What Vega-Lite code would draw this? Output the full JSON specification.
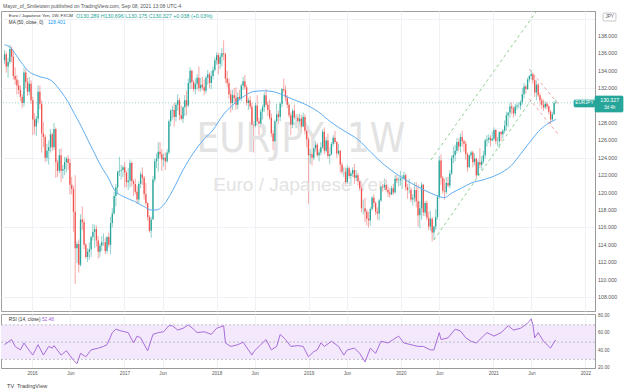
{
"$schema":"https://vega.github.io/schema/vega-lite/v6.json",
"background":"white",
"padding":{"left":0,"top":3,"right":0,"bottom":0},
"autosize":{"type":"pad"},
"spacing":0,
"config":{"view":{"stroke":"#a0a0a0","strokeWidth":1},"axis":{"labelFont":"Liberation Sans","labelColor":"#555","ticks":false,"gridColor":"#eef1f6","gridWidth":1,"domainColor":"#9a9a9a","zindex":0,"labelOverlap":false}},
"datasets":{
"candles":[
{"d":"2015-09-14","o":135.2,"h":136.4,"l":134.8,"c":135.9},
{"d":"2015-09-21","o":135.9,"h":136.2,"l":133.8,"c":134.5},
{"d":"2015-09-28","o":134.5,"h":135.5,"l":133.2,"c":135.0},
{"d":"2015-10-05","o":135.0,"h":137.0,"l":134.8,"c":136.5},
{"d":"2015-10-12","o":136.5,"h":136.8,"l":135.0,"c":135.6},
{"d":"2015-10-19","o":135.6,"h":136.3,"l":133.0,"c":133.4},
{"d":"2015-10-26","o":133.4,"h":134.4,"l":132.4,"c":133.0},
{"d":"2015-11-02","o":133.0,"h":133.5,"l":131.3,"c":132.3},
{"d":"2015-11-09","o":132.3,"h":132.9,"l":131.3,"c":131.8},
{"d":"2015-11-16","o":131.8,"h":132.3,"l":130.5,"c":131.0},
{"d":"2015-11-23","o":131.0,"h":131.3,"l":129.7,"c":130.3},
{"d":"2015-11-30","o":130.3,"h":134.4,"l":129.9,"c":133.8},
{"d":"2015-12-07","o":133.8,"h":134.2,"l":132.0,"c":132.7},
{"d":"2015-12-14","o":132.7,"h":133.2,"l":131.1,"c":131.6},
{"d":"2015-12-21","o":131.6,"h":133.3,"l":131.2,"c":132.5},
{"d":"2015-12-28","o":132.5,"h":132.9,"l":130.2,"c":130.6},
{"d":"2016-01-04","o":130.6,"h":131.0,"l":126.6,"c":128.4},
{"d":"2016-01-11","o":128.4,"h":129.1,"l":126.7,"c":127.6},
{"d":"2016-01-18","o":127.6,"h":128.8,"l":126.5,"c":128.5},
{"d":"2016-01-25","o":128.5,"h":132.3,"l":128.0,"c":131.6},
{"d":"2016-02-01","o":131.6,"h":132.3,"l":129.6,"c":130.2},
{"d":"2016-02-08","o":130.2,"h":130.6,"l":124.6,"c":126.8},
{"d":"2016-02-15","o":126.8,"h":128.1,"l":125.2,"c":126.4},
{"d":"2016-02-22","o":126.4,"h":126.7,"l":123.5,"c":124.0},
{"d":"2016-02-29","o":124.0,"h":125.6,"l":123.6,"c":124.8},
{"d":"2016-03-07","o":124.8,"h":126.0,"l":123.2,"c":125.2},
{"d":"2016-03-14","o":125.2,"h":127.3,"l":124.6,"c":126.7},
{"d":"2016-03-21","o":126.7,"h":126.9,"l":124.8,"c":125.2},
{"d":"2016-03-28","o":125.2,"h":128.0,"l":124.9,"c":127.3},
{"d":"2016-04-04","o":127.3,"h":127.5,"l":121.7,"c":123.5},
{"d":"2016-04-11","o":123.5,"h":123.8,"l":121.8,"c":122.5},
{"d":"2016-04-18","o":122.5,"h":125.0,"l":122.2,"c":124.3},
{"d":"2016-04-25","o":124.3,"h":125.1,"l":121.2,"c":122.5},
{"d":"2016-05-02","o":122.5,"h":123.2,"l":121.6,"c":122.7},
{"d":"2016-05-09","o":122.7,"h":124.1,"l":122.0,"c":123.5},
{"d":"2016-05-16","o":123.5,"h":124.1,"l":122.3,"c":123.9},
{"d":"2016-05-23","o":123.9,"h":124.3,"l":122.6,"c":123.4},
{"d":"2016-05-30","o":123.4,"h":123.9,"l":119.8,"c":120.9},
{"d":"2016-06-06","o":120.9,"h":121.8,"l":119.8,"c":120.4},
{"d":"2016-06-13","o":120.4,"h":120.8,"l":115.5,"c":117.8},
{"d":"2016-06-20","o":117.8,"h":122.0,"l":109.5,"c":113.6},
{"d":"2016-06-27","o":113.6,"h":114.4,"l":111.9,"c":114.1},
{"d":"2016-07-04","o":114.1,"h":114.6,"l":110.8,"c":111.7},
{"d":"2016-07-11","o":111.7,"h":117.5,"l":111.5,"c":116.9},
{"d":"2016-07-18","o":116.9,"h":118.4,"l":115.7,"c":116.6},
{"d":"2016-07-25","o":116.6,"h":117.0,"l":113.5,"c":114.0},
{"d":"2016-08-01","o":114.0,"h":114.2,"l":112.4,"c":112.6},
{"d":"2016-08-08","o":112.6,"h":113.6,"l":112.0,"c":113.2},
{"d":"2016-08-15","o":113.2,"h":114.3,"l":112.3,"c":113.5},
{"d":"2016-08-22","o":113.5,"h":115.0,"l":112.6,"c":114.9},
{"d":"2016-08-29","o":114.9,"h":116.4,"l":114.5,"c":115.5},
{"d":"2016-09-05","o":115.5,"h":116.3,"l":113.6,"c":115.8},
{"d":"2016-09-12","o":115.8,"h":116.2,"l":113.8,"c":114.5},
{"d":"2016-09-19","o":114.5,"h":115.0,"l":112.4,"c":113.2},
{"d":"2016-09-26","o":113.2,"h":114.2,"l":112.6,"c":113.9},
{"d":"2016-10-03","o":113.9,"h":115.0,"l":113.3,"c":114.3},
{"d":"2016-10-10","o":114.3,"h":115.3,"l":113.9,"c":114.3},
{"d":"2016-10-17","o":114.3,"h":114.8,"l":112.9,"c":113.3},
{"d":"2016-10-24","o":113.3,"h":115.0,"l":113.0,"c":114.9},
{"d":"2016-10-31","o":114.9,"h":115.4,"l":113.7,"c":114.0},
{"d":"2016-11-07","o":114.0,"h":117.2,"l":112.9,"c":116.5},
{"d":"2016-11-14","o":116.5,"h":118.2,"l":116.0,"c":117.6},
{"d":"2016-11-21","o":117.6,"h":120.1,"l":117.5,"c":119.6},
{"d":"2016-11-28","o":119.6,"h":121.0,"l":118.4,"c":120.6},
{"d":"2016-12-05","o":120.6,"h":122.5,"l":119.8,"c":122.4},
{"d":"2016-12-12","o":122.4,"h":124.1,"l":121.9,"c":122.5},
{"d":"2016-12-19","o":122.5,"h":123.2,"l":121.5,"c":122.6},
{"d":"2016-12-26","o":122.6,"h":123.1,"l":121.8,"c":122.9},
{"d":"2017-01-02","o":122.9,"h":123.5,"l":120.6,"c":122.3},
{"d":"2017-01-09","o":122.3,"h":122.5,"l":120.6,"c":121.2},
{"d":"2017-01-16","o":121.2,"h":122.8,"l":120.3,"c":121.4},
{"d":"2017-01-23","o":121.4,"h":123.8,"l":120.6,"c":123.4},
{"d":"2017-01-30","o":123.4,"h":123.6,"l":120.7,"c":121.3},
{"d":"2017-02-06","o":121.3,"h":121.5,"l":119.6,"c":121.0},
{"d":"2017-02-13","o":121.0,"h":121.6,"l":119.8,"c":120.1},
{"d":"2017-02-20","o":120.1,"h":120.8,"l":118.7,"c":119.2},
{"d":"2017-02-27","o":119.2,"h":121.3,"l":118.8,"c":121.0},
{"d":"2017-03-06","o":121.0,"h":122.4,"l":120.5,"c":122.1},
{"d":"2017-03-13","o":122.1,"h":122.9,"l":120.9,"c":121.7},
{"d":"2017-03-20","o":121.7,"h":121.9,"l":119.2,"c":119.8},
{"d":"2017-03-27","o":119.8,"h":121.1,"l":118.5,"c":118.8},
{"d":"2017-04-03","o":118.8,"h":118.9,"l":116.8,"c":117.2},
{"d":"2017-04-10","o":117.2,"h":117.4,"l":115.4,"c":115.6},
{"d":"2017-04-17","o":115.6,"h":117.2,"l":114.8,"c":116.9},
{"d":"2017-04-24","o":116.9,"h":121.9,"l":116.9,"c":121.5},
{"d":"2017-05-01","o":121.5,"h":123.9,"l":121.2,"c":123.6},
{"d":"2017-05-08","o":123.6,"h":124.5,"l":122.8,"c":123.9},
{"d":"2017-05-15","o":123.9,"h":125.8,"l":122.4,"c":124.7},
{"d":"2017-05-22","o":124.7,"h":125.8,"l":124.0,"c":124.4},
{"d":"2017-05-29","o":124.4,"h":125.0,"l":122.5,"c":123.8},
{"d":"2017-06-05","o":123.8,"h":124.5,"l":123.0,"c":124.0},
{"d":"2017-06-12","o":124.0,"h":124.6,"l":122.6,"c":123.6},
{"d":"2017-06-19","o":123.6,"h":125.0,"l":123.4,"c":124.6},
{"d":"2017-06-26","o":124.6,"h":128.4,"l":124.4,"c":128.2},
{"d":"2017-07-03","o":128.2,"h":129.6,"l":127.6,"c":129.4},
{"d":"2017-07-10","o":129.4,"h":130.0,"l":128.4,"c":129.5},
{"d":"2017-07-17","o":129.5,"h":130.3,"l":127.6,"c":128.7},
{"d":"2017-07-24","o":128.7,"h":130.4,"l":128.2,"c":130.1},
{"d":"2017-07-31","o":130.1,"h":131.3,"l":129.4,"c":130.6},
{"d":"2017-08-07","o":130.6,"h":130.9,"l":128.3,"c":128.9},
{"d":"2017-08-14","o":128.9,"h":130.0,"l":128.3,"c":128.5},
{"d":"2017-08-21","o":128.5,"h":129.9,"l":128.0,"c":129.8},
{"d":"2017-08-28","o":129.8,"h":131.2,"l":128.8,"c":130.6},
{"d":"2017-09-04","o":130.6,"h":131.7,"l":128.9,"c":130.0},
{"d":"2017-09-11","o":130.0,"h":133.1,"l":129.8,"c":132.6},
{"d":"2017-09-18","o":132.6,"h":134.4,"l":131.9,"c":134.0},
{"d":"2017-09-25","o":134.0,"h":134.1,"l":131.9,"c":132.7},
{"d":"2017-10-02","o":132.7,"h":132.9,"l":131.6,"c":131.9},
{"d":"2017-10-09","o":131.9,"h":133.1,"l":131.3,"c":132.5},
{"d":"2017-10-16","o":132.5,"h":133.6,"l":131.8,"c":133.2},
{"d":"2017-10-23","o":133.2,"h":134.5,"l":131.6,"c":132.0},
{"d":"2017-10-30","o":132.0,"h":133.2,"l":131.6,"c":132.4},
{"d":"2017-11-06","o":132.4,"h":133.3,"l":131.8,"c":132.1},
{"d":"2017-11-13","o":132.1,"h":133.0,"l":131.2,"c":131.7},
{"d":"2017-11-20","o":131.7,"h":133.4,"l":131.4,"c":133.2},
{"d":"2017-11-27","o":133.2,"h":134.1,"l":132.4,"c":133.6},
{"d":"2017-12-04","o":133.6,"h":133.8,"l":132.0,"c":132.6},
{"d":"2017-12-11","o":132.6,"h":134.0,"l":131.9,"c":133.4},
{"d":"2017-12-18","o":133.4,"h":134.5,"l":133.0,"c":134.1},
{"d":"2017-12-25","o":134.1,"h":135.5,"l":133.9,"c":135.2},
{"d":"2018-01-01","o":135.2,"h":136.1,"l":134.7,"c":135.8},
{"d":"2018-01-08","o":135.8,"h":136.1,"l":133.6,"c":134.8},
{"d":"2018-01-15","o":134.8,"h":136.0,"l":134.2,"c":135.6},
{"d":"2018-01-22","o":135.6,"h":136.6,"l":134.5,"c":136.0},
{"d":"2018-01-29","o":136.0,"h":137.5,"l":135.2,"c":135.9},
{"d":"2018-02-05","o":135.9,"h":136.1,"l":132.6,"c":133.1},
{"d":"2018-02-12","o":133.1,"h":134.0,"l":132.1,"c":132.6},
{"d":"2018-02-19","o":132.6,"h":133.1,"l":130.8,"c":131.3},
{"d":"2018-02-26","o":131.3,"h":131.8,"l":129.2,"c":130.3},
{"d":"2018-03-05","o":130.3,"h":131.8,"l":129.5,"c":131.2},
{"d":"2018-03-12","o":131.2,"h":132.0,"l":130.4,"c":130.9},
{"d":"2018-03-19","o":130.9,"h":132.1,"l":129.5,"c":130.1},
{"d":"2018-03-26","o":130.1,"h":131.5,"l":129.6,"c":131.0},
{"d":"2018-04-02","o":131.0,"h":131.8,"l":130.6,"c":130.8},
{"d":"2018-04-09","o":130.8,"h":132.5,"l":130.5,"c":132.3},
{"d":"2018-04-16","o":132.3,"h":133.3,"l":131.8,"c":132.8},
{"d":"2018-04-23","o":132.8,"h":133.5,"l":131.8,"c":132.1},
{"d":"2018-04-30","o":132.1,"h":132.4,"l":130.0,"c":130.3},
{"d":"2018-05-07","o":130.3,"h":130.9,"l":129.5,"c":130.6},
{"d":"2018-05-14","o":130.6,"h":131.1,"l":129.6,"c":129.9},
{"d":"2018-05-21","o":129.9,"h":130.3,"l":127.3,"c":127.8},
{"d":"2018-05-28","o":127.8,"h":128.2,"l":124.6,"c":127.7},
{"d":"2018-06-04","o":127.7,"h":130.3,"l":127.5,"c":130.0},
{"d":"2018-06-11","o":130.0,"h":131.2,"l":127.7,"c":128.2},
{"d":"2018-06-18","o":128.2,"h":128.6,"l":126.6,"c":127.9},
{"d":"2018-06-25","o":127.9,"h":129.6,"l":127.5,"c":129.3},
{"d":"2018-07-02","o":129.3,"h":130.1,"l":128.4,"c":129.8},
{"d":"2018-07-09","o":129.8,"h":131.5,"l":129.3,"c":131.2},
{"d":"2018-07-16","o":131.2,"h":131.9,"l":129.9,"c":130.1},
{"d":"2018-07-23","o":130.1,"h":130.5,"l":128.8,"c":129.5},
{"d":"2018-07-30","o":129.5,"h":130.7,"l":128.4,"c":128.6},
{"d":"2018-08-06","o":128.6,"h":129.1,"l":126.4,"c":126.8},
{"d":"2018-08-13","o":126.8,"h":127.2,"l":124.9,"c":125.9},
{"d":"2018-08-20","o":125.9,"h":128.4,"l":125.8,"c":128.2},
{"d":"2018-08-27","o":128.2,"h":130.2,"l":128.0,"c":129.0},
{"d":"2018-09-03","o":129.0,"h":129.4,"l":127.9,"c":128.7},
{"d":"2018-09-10","o":128.7,"h":130.4,"l":128.2,"c":130.2},
{"d":"2018-09-17","o":130.2,"h":132.0,"l":129.8,"c":131.9},
{"d":"2018-09-24","o":131.9,"h":133.1,"l":131.5,"c":131.8},
{"d":"2018-10-01","o":131.8,"h":132.3,"l":130.5,"c":130.9},
{"d":"2018-10-08","o":130.9,"h":131.2,"l":129.7,"c":130.1},
{"d":"2018-10-15","o":130.1,"h":130.3,"l":128.6,"c":128.9},
{"d":"2018-10-22","o":128.9,"h":129.2,"l":126.6,"c":127.8},
{"d":"2018-10-29","o":127.8,"h":129.6,"l":127.4,"c":129.4},
{"d":"2018-11-05","o":129.4,"h":130.1,"l":128.4,"c":128.6},
{"d":"2018-11-12","o":128.6,"h":129.0,"l":127.4,"c":128.6},
{"d":"2018-11-19","o":128.6,"h":129.0,"l":127.8,"c":128.2},
{"d":"2018-11-26","o":128.2,"h":129.1,"l":127.8,"c":128.5},
{"d":"2018-12-03","o":128.5,"h":128.9,"l":126.8,"c":127.6},
{"d":"2018-12-10","o":127.6,"h":129.2,"l":127.5,"c":128.7},
{"d":"2018-12-17","o":128.7,"h":129.0,"l":126.7,"c":127.1},
{"d":"2018-12-24","o":127.1,"h":127.3,"l":125.2,"c":126.1},
{"d":"2018-12-31","o":126.1,"h":126.4,"l":118.7,"c":124.3},
{"d":"2019-01-07","o":124.3,"h":125.0,"l":123.3,"c":124.4},
{"d":"2019-01-14","o":124.4,"h":124.9,"l":123.1,"c":124.0},
{"d":"2019-01-21","o":124.0,"h":125.2,"l":123.7,"c":125.1},
{"d":"2019-01-28","o":125.1,"h":125.9,"l":124.7,"c":125.5},
{"d":"2019-02-04","o":125.5,"h":125.7,"l":124.1,"c":124.3},
{"d":"2019-02-11","o":124.3,"h":125.0,"l":123.6,"c":124.6},
{"d":"2019-02-18","o":124.6,"h":125.8,"l":124.3,"c":125.2},
{"d":"2019-02-25","o":125.2,"h":127.3,"l":125.0,"c":127.0},
{"d":"2019-03-04","o":127.0,"h":127.5,"l":124.4,"c":124.8},
{"d":"2019-03-11","o":124.8,"h":126.4,"l":124.6,"c":126.0},
{"d":"2019-03-18","o":126.0,"h":126.8,"l":123.9,"c":124.2},
{"d":"2019-03-25","o":124.2,"h":124.6,"l":123.3,"c":124.4},
{"d":"2019-04-01","o":124.4,"h":125.8,"l":124.3,"c":125.6},
{"d":"2019-04-08","o":125.6,"h":126.6,"l":125.3,"c":126.3},
{"d":"2019-04-15","o":126.3,"h":127.1,"l":125.6,"c":125.8},
{"d":"2019-04-22","o":125.8,"h":125.9,"l":124.0,"c":124.5},
{"d":"2019-04-29","o":124.5,"h":125.6,"l":124.3,"c":124.8},
{"d":"2019-05-06","o":124.8,"h":124.9,"l":122.3,"c":123.2},
{"d":"2019-05-13","o":123.2,"h":123.5,"l":122.1,"c":122.4},
{"d":"2019-05-20","o":122.4,"h":122.9,"l":121.8,"c":122.4},
{"d":"2019-05-27","o":122.4,"h":122.9,"l":120.9,"c":121.2},
{"d":"2019-06-03","o":121.2,"h":123.2,"l":121.0,"c":122.8},
{"d":"2019-06-10","o":122.8,"h":123.0,"l":121.6,"c":121.9},
{"d":"2019-06-17","o":121.9,"h":122.5,"l":120.8,"c":122.2},
{"d":"2019-06-24","o":122.2,"h":122.9,"l":121.8,"c":122.6},
{"d":"2019-07-01","o":122.6,"h":123.3,"l":121.0,"c":121.7},
{"d":"2019-07-08","o":121.7,"h":122.6,"l":121.3,"c":122.0},
{"d":"2019-07-15","o":122.0,"h":122.3,"l":120.8,"c":121.3},
{"d":"2019-07-22","o":121.3,"h":121.4,"l":120.2,"c":120.5},
{"d":"2019-07-29","o":120.5,"h":121.2,"l":117.7,"c":118.2},
{"d":"2019-08-05","o":118.2,"h":119.2,"l":117.5,"c":118.2},
{"d":"2019-08-12","o":118.2,"h":119.4,"l":116.6,"c":117.8},
{"d":"2019-08-19","o":117.8,"h":118.1,"l":116.2,"c":117.0},
{"d":"2019-08-26","o":117.0,"h":117.8,"l":116.0,"c":116.8},
{"d":"2019-09-02","o":116.8,"h":118.3,"l":116.2,"c":118.1},
{"d":"2019-09-09","o":118.1,"h":119.6,"l":117.9,"c":119.4},
{"d":"2019-09-16","o":119.4,"h":119.8,"l":118.3,"c":118.8},
{"d":"2019-09-23","o":118.8,"h":119.0,"l":117.4,"c":117.8},
{"d":"2019-09-30","o":117.8,"h":118.3,"l":116.9,"c":117.6},
{"d":"2019-10-07","o":117.6,"h":119.3,"l":116.8,"c":119.1},
{"d":"2019-10-14","o":119.1,"h":120.9,"l":118.9,"c":120.7},
{"d":"2019-10-21","o":120.7,"h":121.0,"l":120.1,"c":120.6},
{"d":"2019-10-28","o":120.6,"h":121.6,"l":120.3,"c":120.9},
{"d":"2019-11-04","o":120.9,"h":121.5,"l":120.1,"c":120.3},
{"d":"2019-11-11","o":120.3,"h":120.8,"l":119.5,"c":120.0},
{"d":"2019-11-18","o":120.0,"h":120.5,"l":119.4,"c":119.8},
{"d":"2019-11-25","o":119.8,"h":120.8,"l":119.7,"c":120.5},
{"d":"2019-12-02","o":120.5,"h":121.0,"l":119.7,"c":120.0},
{"d":"2019-12-09","o":120.0,"h":122.0,"l":119.9,"c":121.6},
{"d":"2019-12-16","o":121.6,"h":122.0,"l":121.1,"c":121.4},
{"d":"2019-12-23","o":121.4,"h":121.8,"l":120.7,"c":121.4},
{"d":"2019-12-30","o":121.4,"h":122.5,"l":120.8,"c":121.6},
{"d":"2020-01-06","o":121.6,"h":122.0,"l":120.4,"c":121.6},
{"d":"2020-01-13","o":121.6,"h":122.4,"l":121.5,"c":122.0},
{"d":"2020-01-20","o":122.0,"h":122.2,"l":120.2,"c":120.6},
{"d":"2020-01-27","o":120.6,"h":121.0,"l":119.3,"c":120.3},
{"d":"2020-02-03","o":120.3,"h":121.6,"l":119.9,"c":120.3},
{"d":"2020-02-10","o":120.3,"h":120.6,"l":118.9,"c":119.2},
{"d":"2020-02-17","o":119.2,"h":119.8,"l":118.5,"c":119.4},
{"d":"2020-02-24","o":119.4,"h":121.2,"l":118.9,"c":120.3},
{"d":"2020-03-02","o":120.3,"h":121.2,"l":118.3,"c":119.0},
{"d":"2020-03-09","o":119.0,"h":120.9,"l":116.1,"c":117.4},
{"d":"2020-03-16","o":117.4,"h":119.0,"l":115.9,"c":118.2},
{"d":"2020-03-23","o":118.2,"h":121.2,"l":116.9,"c":120.9},
{"d":"2020-03-30","o":120.9,"h":121.0,"l":117.3,"c":117.7},
{"d":"2020-04-06","o":117.7,"h":119.0,"l":117.3,"c":118.8},
{"d":"2020-04-13","o":118.8,"h":119.1,"l":116.8,"c":117.1},
{"d":"2020-04-20","o":117.1,"h":117.8,"l":115.7,"c":116.1},
{"d":"2020-04-27","o":116.1,"h":117.9,"l":115.6,"c":117.0},
{"d":"2020-05-04","o":117.0,"h":117.2,"l":114.4,"c":115.4},
{"d":"2020-05-11","o":115.4,"h":116.2,"l":114.6,"c":116.1},
{"d":"2020-05-18","o":116.1,"h":118.1,"l":115.7,"c":117.2},
{"d":"2020-05-25","o":117.2,"h":119.7,"l":116.9,"c":119.5},
{"d":"2020-06-01","o":119.5,"h":124.2,"l":119.3,"c":123.7},
{"d":"2020-06-08","o":123.7,"h":124.4,"l":120.9,"c":121.7},
{"d":"2020-06-15","o":121.7,"h":121.9,"l":119.9,"c":120.2},
{"d":"2020-06-22","o":120.2,"h":121.6,"l":119.2,"c":120.1},
{"d":"2020-06-29","o":120.1,"h":121.8,"l":119.8,"c":121.1},
{"d":"2020-07-06","o":121.1,"h":121.8,"l":120.6,"c":120.8},
{"d":"2020-07-13","o":120.8,"h":122.6,"l":120.5,"c":122.2},
{"d":"2020-07-20","o":122.2,"h":124.3,"l":122.0,"c":124.0},
{"d":"2020-07-27","o":124.0,"h":125.3,"l":123.4,"c":124.3},
{"d":"2020-08-03","o":124.3,"h":125.5,"l":123.6,"c":124.8},
{"d":"2020-08-10","o":124.8,"h":126.3,"l":124.5,"c":125.8},
{"d":"2020-08-17","o":125.8,"h":126.2,"l":124.8,"c":125.3},
{"d":"2020-08-24","o":125.3,"h":126.8,"l":124.6,"c":126.4},
{"d":"2020-08-31","o":126.4,"h":127.1,"l":125.3,"c":125.9},
{"d":"2020-09-07","o":125.9,"h":126.1,"l":124.7,"c":125.6},
{"d":"2020-09-14","o":125.6,"h":125.9,"l":123.8,"c":124.4},
{"d":"2020-09-21","o":124.4,"h":124.6,"l":122.4,"c":122.9},
{"d":"2020-09-28","o":122.9,"h":124.4,"l":122.9,"c":124.3},
{"d":"2020-10-05","o":124.3,"h":124.8,"l":123.9,"c":124.6},
{"d":"2020-10-12","o":124.6,"h":124.8,"l":122.9,"c":123.5},
{"d":"2020-10-19","o":123.5,"h":124.5,"l":123.1,"c":123.9},
{"d":"2020-10-26","o":123.9,"h":124.0,"l":121.6,"c":122.0},
{"d":"2020-11-02","o":122.0,"h":123.8,"l":121.9,"c":123.5},
{"d":"2020-11-09","o":123.5,"h":125.1,"l":122.8,"c":123.2},
{"d":"2020-11-16","o":123.2,"h":124.2,"l":122.6,"c":123.6},
{"d":"2020-11-23","o":123.6,"h":124.8,"l":123.3,"c":124.3},
{"d":"2020-11-30","o":124.3,"h":126.2,"l":123.9,"c":126.0},
{"d":"2020-12-07","o":126.0,"h":126.6,"l":125.3,"c":126.1},
{"d":"2020-12-14","o":126.1,"h":126.7,"l":125.7,"c":126.3},
{"d":"2020-12-21","o":126.3,"h":126.6,"l":125.3,"c":126.0},
{"d":"2020-12-28","o":126.0,"h":127.0,"l":125.9,"c":126.2},
{"d":"2021-01-04","o":126.2,"h":127.5,"l":126.0,"c":127.2},
{"d":"2021-01-11","o":127.2,"h":127.3,"l":125.6,"c":125.9},
{"d":"2021-01-18","o":125.9,"h":126.4,"l":125.3,"c":125.9},
{"d":"2021-01-25","o":125.9,"h":126.7,"l":125.1,"c":127.0},
{"d":"2021-02-01","o":127.0,"h":127.0,"l":125.9,"c":126.7},
{"d":"2021-02-08","o":126.7,"h":127.3,"l":126.2,"c":127.1},
{"d":"2021-02-15","o":127.1,"h":128.3,"l":126.8,"c":127.7},
{"d":"2021-02-22","o":127.7,"h":129.3,"l":127.1,"c":128.9},
{"d":"2021-03-01","o":128.9,"h":129.2,"l":127.5,"c":129.2},
{"d":"2021-03-08","o":129.2,"h":130.3,"l":128.6,"c":129.9},
{"d":"2021-03-15","o":129.9,"h":130.4,"l":129.0,"c":129.7},
{"d":"2021-03-22","o":129.7,"h":129.9,"l":128.6,"c":129.1},
{"d":"2021-03-29","o":129.1,"h":130.2,"l":128.8,"c":129.9},
{"d":"2021-04-05","o":129.9,"h":130.3,"l":129.5,"c":130.0},
{"d":"2021-04-12","o":130.0,"h":130.4,"l":129.7,"c":130.0},
{"d":"2021-04-19","o":130.0,"h":130.6,"l":129.5,"c":130.4},
{"d":"2021-04-26","o":130.4,"h":132.0,"l":130.1,"c":131.3},
{"d":"2021-05-03","o":131.3,"h":132.6,"l":130.8,"c":132.2},
{"d":"2021-05-10","o":132.2,"h":132.4,"l":131.4,"c":131.9},
{"d":"2021-05-17","o":131.9,"h":133.2,"l":131.8,"c":133.0},
{"d":"2021-05-24","o":133.0,"h":133.5,"l":132.7,"c":133.4},
{"d":"2021-05-31","o":133.4,"h":134.1,"l":133.0,"c":133.6},
{"d":"2021-06-07","o":133.6,"h":133.8,"l":132.5,"c":132.9},
{"d":"2021-06-14","o":132.9,"h":133.5,"l":131.0,"c":131.5},
{"d":"2021-06-21","o":131.5,"h":132.9,"l":130.6,"c":132.4},
{"d":"2021-06-28","o":132.4,"h":132.6,"l":131.0,"c":131.2},
{"d":"2021-07-05","o":131.2,"h":131.5,"l":130.0,"c":130.6},
{"d":"2021-07-12","o":130.6,"h":130.9,"l":129.6,"c":130.1},
{"d":"2021-07-19","o":130.1,"h":130.7,"l":129.4,"c":129.8},
{"d":"2021-07-26","o":129.8,"h":130.5,"l":129.6,"c":130.2},
{"d":"2021-08-02","o":130.2,"h":130.4,"l":129.6,"c":129.9},
{"d":"2021-08-09","o":129.9,"h":130.1,"l":129.0,"c":129.3},
{"d":"2021-08-16","o":129.3,"h":129.5,"l":127.9,"c":128.4},
{"d":"2021-08-23","o":128.4,"h":129.3,"l":128.2,"c":129.0},
{"d":"2021-08-30","o":129.0,"h":130.5,"l":128.9,"c":130.289},
{"d":"2021-09-06","o":130.289,"h":130.696,"l":130.175,"c":130.327}
],
"ma":[
{"d":"2015-09-14","v":137.0},{"d":"2015-10-10","v":136.6},{"d":"2015-11-06","v":135.5},{"d":"2015-11-26","v":134.7},{"d":"2015-12-16","v":134.0},{"d":"2016-01-24","v":133.4},{"d":"2016-03-16","v":132.9},{"d":"2016-04-25","v":131.6},{"d":"2016-05-23","v":130.4},{"d":"2016-06-16","v":129.1},{"d":"2016-07-14","v":127.6},{"d":"2016-08-10","v":126.0},{"d":"2016-09-03","v":124.6},{"d":"2016-10-01","v":123.0},{"d":"2016-10-29","v":121.7},{"d":"2016-11-22","v":120.3},{"d":"2016-12-31","v":119.5},{"d":"2017-02-09","v":119.0},{"d":"2017-03-19","v":118.4},{"d":"2017-04-16","v":118.0},{"d":"2017-05-06","v":118.0},{"d":"2017-06-03","v":118.5},{"d":"2017-07-12","v":120.3},{"d":"2017-08-21","v":122.6},{"d":"2017-09-30","v":124.5},{"d":"2017-11-08","v":126.0},{"d":"2017-12-18","v":127.2},{"d":"2018-01-26","v":128.9},{"d":"2018-03-07","v":130.1},{"d":"2018-04-16","v":131.0},{"d":"2018-05-26","v":131.6},{"d":"2018-07-04","v":131.7},{"d":"2018-08-13","v":131.6},{"d":"2018-09-22","v":131.2},{"d":"2018-10-23","v":130.8},{"d":"2018-12-14","v":130.2},{"d":"2019-02-07","v":129.3},{"d":"2019-03-30","v":128.1},{"d":"2019-05-21","v":127.1},{"d":"2019-07-15","v":126.1},{"d":"2019-09-05","v":124.6},{"d":"2019-10-27","v":123.2},{"d":"2019-12-21","v":122.0},{"d":"2020-02-10","v":121.1},{"d":"2020-04-02","v":120.3},{"d":"2020-05-27","v":119.6},{"d":"2020-06-20","v":119.4},{"d":"2020-07-18","v":119.9},{"d":"2020-08-27","v":120.5},{"d":"2020-10-06","v":121.1},{"d":"2020-11-26","v":121.5},{"d":"2021-01-20","v":122.1},{"d":"2021-03-13","v":123.1},{"d":"2021-04-21","v":124.5},{"d":"2021-05-31","v":126.0},{"d":"2021-06-28","v":127.0},{"d":"2021-07-30","v":127.8},{"d":"2021-09-06","v":128.4}
],
"rsi":[
{"d":"2015-09-14","v":47},{"d":"2015-10-12","v":53},{"d":"2015-10-26","v":45},{"d":"2015-11-16","v":41},{"d":"2015-11-30","v":49},{"d":"2015-12-14","v":43},{"d":"2016-01-04","v":35},{"d":"2016-01-25","v":47},{"d":"2016-02-15","v":35},{"d":"2016-03-07","v":45},{"d":"2016-03-21","v":43},{"d":"2016-03-28","v":46},{"d":"2016-04-25","v":35},{"d":"2016-05-16","v":40},{"d":"2016-06-13","v":29},{"d":"2016-06-27","v":25},{"d":"2016-07-11","v":37},{"d":"2016-08-01","v":33},{"d":"2016-08-22","v":41},{"d":"2016-09-19","v":43},{"d":"2016-10-10","v":45},{"d":"2016-10-24","v":47},{"d":"2016-11-14","v":61},{"d":"2016-11-28","v":65},{"d":"2016-12-19","v":63},{"d":"2017-01-16","v":61},{"d":"2017-02-06","v":49},{"d":"2017-02-20","v":57},{"d":"2017-03-06","v":55},{"d":"2017-04-03","v":40},{"d":"2017-04-24","v":59},{"d":"2017-05-15","v":61},{"d":"2017-06-05","v":62},{"d":"2017-06-26","v":69},{"d":"2017-07-10","v":69},{"d":"2017-07-31","v":64},{"d":"2017-08-21","v":66},{"d":"2017-09-11","v":70},{"d":"2017-10-02","v":65},{"d":"2017-10-16","v":61},{"d":"2017-11-13","v":62},{"d":"2017-12-11","v":59},{"d":"2018-01-01","v":66},{"d":"2018-01-29","v":69},{"d":"2018-02-05","v":49},{"d":"2018-02-26","v":45},{"d":"2018-03-26","v":47},{"d":"2018-04-16","v":50},{"d":"2018-05-21","v":35},{"d":"2018-05-28","v":39},{"d":"2018-06-25","v":47},{"d":"2018-07-16","v":53},{"d":"2018-08-06","v":41},{"d":"2018-08-27","v":45},{"d":"2018-09-10","v":59},{"d":"2018-10-01","v":53},{"d":"2018-10-22","v":45},{"d":"2018-11-19","v":46},{"d":"2018-12-10","v":45},{"d":"2018-12-31","v":33},{"d":"2019-01-21","v":39},{"d":"2019-02-04","v":41},{"d":"2019-02-18","v":49},{"d":"2019-03-04","v":45},{"d":"2019-04-01","v":51},{"d":"2019-04-29","v":45},{"d":"2019-05-20","v":35},{"d":"2019-06-03","v":41},{"d":"2019-07-01","v":43},{"d":"2019-07-22","v":37},{"d":"2019-08-12","v":27},{"d":"2019-09-02","v":43},{"d":"2019-09-23","v":37},{"d":"2019-10-14","v":51},{"d":"2019-11-11","v":49},{"d":"2019-12-02","v":53},{"d":"2019-12-23","v":57},{"d":"2020-01-13","v":49},{"d":"2020-02-10","v":47},{"d":"2020-03-09","v":45},{"d":"2020-03-30","v":45},{"d":"2020-04-27","v":41},{"d":"2020-05-11","v":41},{"d":"2020-06-01","v":61},{"d":"2020-06-08","v":53},{"d":"2020-07-06","v":55},{"d":"2020-08-03","v":65},{"d":"2020-08-24","v":63},{"d":"2020-09-14","v":55},{"d":"2020-10-05","v":51},{"d":"2020-10-26","v":49},{"d":"2020-11-23","v":57},{"d":"2020-12-07","v":61},{"d":"2021-01-04","v":57},{"d":"2021-02-01","v":61},{"d":"2021-03-01","v":69},{"d":"2021-03-22","v":64},{"d":"2021-04-19","v":66},{"d":"2021-05-17","v":72},{"d":"2021-05-24","v":74},{"d":"2021-05-31","v":77},{"d":"2021-06-07","v":70},{"d":"2021-06-14","v":55},{"d":"2021-06-28","v":61},{"d":"2021-07-19","v":51},{"d":"2021-08-16","v":43},{"d":"2021-08-30","v":50},{"d":"2021-09-06","v":52.48}
],
"draw":[
{"g":"gu","d":"2020-04-29","p":123.75,"col":"#8fcf8f"},{"g":"gu","d":"2021-06-19","p":140.76,"col":"#8fcf8f"},
{"g":"gl","d":"2020-05-11","p":114.55,"col":"#8fcf8f"},{"g":"gl","d":"2021-05-30","p":130.6,"col":"#8fcf8f"},
{"g":"ru","d":"2021-05-23","p":134.2,"col":"#f2a0a0"},{"g":"ru","d":"2021-09-18","p":130.1,"col":"#f2a0a0"},
{"g":"rl","d":"2021-05-23","p":130.8,"col":"#f2a0a0"},{"g":"rl","d":"2021-09-18","p":126.6,"col":"#f2a0a0"}
],
"pticks":[
{"d":"2022-02-20","p":108,"t":"108.000"},{"d":"2022-02-20","p":110,"t":"110.000"},{"d":"2022-02-20","p":112,"t":"112.000"},{"d":"2022-02-20","p":114,"t":"114.000"},{"d":"2022-02-20","p":116,"t":"116.000"},{"d":"2022-02-20","p":118,"t":"118.000"},{"d":"2022-02-20","p":120,"t":"120.000"},{"d":"2022-02-20","p":122,"t":"122.000"},{"d":"2022-02-20","p":124,"t":"124.000"},{"d":"2022-02-20","p":126,"t":"126.000"},{"d":"2022-02-20","p":128,"t":"128.000"},{"d":"2022-02-20","p":132,"t":"132.000"},{"d":"2022-02-20","p":134,"t":"134.000"},{"d":"2022-02-20","p":136,"t":"136.000"},{"d":"2022-02-20","p":138,"t":"138.000"}
],
"rticks":[
{"d":"2022-02-20","v":20,"t":"20.00"},{"d":"2022-02-20","v":40,"t":"40.00"},{"d":"2022-02-20","v":60,"t":"60.00"},{"d":"2022-02-20","v":80,"t":"80.00"}
]
},
"vconcat":[
{
"width":594,"height":300,
"layer":[
{"data":{"name":"candles"},
 "mark":{"type":"rule","strokeWidth":1,"opacity":0.5},
 "encoding":{
  "x":{"field":"d","type":"temporal","scale":{"type":"utc","domain":[1440979200000,1644278400000]},
   "axis":{"orient":"bottom","labels":false,"domain":false,"grid":true,"title":null,
    "values":[1451606400000,1464739200000,1483228800000,1496275200000,1514764800000,1527811200000,1546300800000,1559347200000,1577836800000,1590969600000,1609459200000,1622505600000,1640995200000]}},
  "y":{"field":"l","type":"quantitative","scale":{"domain":[106.39,140.87],"nice":false,"zero":false},
   "axis":{"orient":"right","title":null,"values":[108,110,112,114,116,118,120,122,124,126,128,130,132,134,136,138,140],"labels":false,"grid":true,"domain":true}},
  "y2":{"field":"h"},
  "color":{"condition":{"test":"datum.c >= datum.o","value":"#26a69a"},"value":"#ef5350"}}},
{"data":{"values":[{"d":"2018-12-01","p":126.0,"t":"EURJPY, 1W"}]},
 "mark":{"type":"text","font":"Liberation Sans Narrow, DejaVu Sans Condensed, sans-serif","fontSize":40,"color":"#e3e3e3","align":"center","baseline":"middle"},
 "encoding":{"x":{"field":"d","type":"temporal"},"y":{"field":"p","type":"quantitative"},"text":{"field":"t"}}},
{"data":{"values":[{"d":"2018-12-01","p":120.9,"t":"Euro / Japanese Yen"}]},
 "mark":{"type":"text","font":"Liberation Sans","fontSize":19,"color":"#e3e3e3","align":"center","baseline":"middle"},
 "encoding":{"x":{"field":"d","type":"temporal"},"y":{"field":"p","type":"quantitative"},"text":{"field":"t"}}},
{"data":{"values":[{"p":130.327}]},
 "mark":{"type":"rule","color":"#26a69a","opacity":0.45,"strokeDash":[1,2],"strokeWidth":1},
 "encoding":{"y":{"field":"p","type":"quantitative"}}},
{"data":{"name":"candles"},
 "mark":{"type":"rule","strokeWidth":1.3},
 "encoding":{
  "x":{"field":"d","type":"temporal"},
  "y":{"field":"o","type":"quantitative"},
  "y2":{"field":"c"},
  "color":{"condition":{"test":"datum.c >= datum.o","value":"#26a69a"},"value":"#ef5350"}}},
{"data":{"name":"ma"},
 "mark":{"type":"line","color":"#5fadf2","strokeWidth":1,"interpolate":"monotone"},
 "encoding":{"x":{"field":"d","type":"temporal"},"y":{"field":"v","type":"quantitative"}}},
{"data":{"name":"draw"},
 "mark":{"type":"line","strokeWidth":1,"strokeDash":[3,3]},
 "encoding":{
  "x":{"field":"d","type":"temporal"},
  "y":{"field":"p","type":"quantitative"},
  "detail":{"field":"g"},
  "color":{"field":"col","type":"nominal","scale":null}}},
{"data":{"name":"pticks"},
 "mark":{"type":"text","font":"Liberation Sans","fontSize":5.3,"color":"#555555","align":"left","baseline":"middle"},
 "encoding":{"x":{"field":"d","type":"temporal"},"y":{"field":"p","type":"quantitative"},"text":{"field":"t"}}},
{"data":{"values":[
  {"d1":"2021-11-17","d2":"2022-02-08","p1":130.64,"p2":129.84,"f":"#26a69a","s":"#26a69a"},
  {"d1":"2022-02-08","d2":"2022-05-30","p1":131.1,"p2":129.26,"f":"#26a69a","s":"#26a69a"},
  {"d1":"2022-03-12","d2":"2022-05-02","p1":140.64,"p2":139.72,"f":"#ffffff","s":"#b0b0b0"}]},
 "mark":{"type":"rect","strokeWidth":0.7,"cornerRadius":1},
 "encoding":{
  "x":{"field":"d1","type":"temporal"},
  "x2":{"field":"d2"},
  "y":{"field":"p1","type":"quantitative"},
  "y2":{"field":"p2"},
  "fill":{"field":"f","type":"nominal","scale":null},
  "stroke":{"field":"s","type":"nominal","scale":null}}},
{"data":{"values":[
  {"d":"2021-12-28","p":130.24,"t":"EURJPY","col":"#ffffff","s":4.6},
  {"d":"2022-04-07","p":130.62,"t":"130.327","col":"#ffffff","s":5.2},
  {"d":"2022-04-07","p":129.74,"t":"3d 4h","col":"#ffffff","s":4.6},
  {"d":"2022-04-07","p":140.18,"t":"JPY","col":"#555555","s":4.6}]},
 "mark":{"type":"text","font":"Liberation Sans","align":"center","baseline":"middle"},
 "encoding":{
  "x":{"field":"d","type":"temporal"},
  "y":{"field":"p","type":"quantitative"},
  "text":{"field":"t"},
  "size":{"field":"s","type":"quantitative","scale":null},
  "color":{"field":"col","type":"nominal","scale":null}}},
{"data":{"values":[
  {"d":"2015-09-08","p":141.45,"t":"Mayor_of_Smiletown published on TradingView.com, Sep 08, 2021 13:08 UTC-4","col":"#555555","s":5},
  {"d":"2015-10-01","p":140.3,"t":"Euro / Japanese Yen, 1W, FXCM","col":"#333333","s":4.4},
  {"d":"2016-06-23","p":140.3,"t":"O130.289 H130.696 L130.175 C130.327 +0.038 (+0.03%)","col":"#26a69a","s":5.3},
  {"d":"2015-10-01","p":139.49,"t":"MA (50, close, 0)","col":"#333333","s":4.6},
  {"d":"2016-03-04","p":139.49,"t":"128.401","col":"#2196f3","s":4.8}]},
 "mark":{"type":"text","font":"Liberation Sans","align":"left","baseline":"middle"},
 "encoding":{
  "x":{"field":"d","type":"temporal"},
  "y":{"field":"p","type":"quantitative"},
  "text":{"field":"t"},
  "size":{"field":"s","type":"quantitative","scale":null},
  "color":{"field":"col","type":"nominal","scale":null}}}
]
},
{
"width":594,"height":54,
"layer":[
{"data":{"name":"rsi"},
 "mark":{"type":"line","color":"#a35fd8","strokeWidth":1,"opacity":0},
 "encoding":{
  "x":{"field":"d","type":"temporal","scale":{"type":"utc","domain":[1440979200000,1644278400000]},
   "axis":{"orient":"bottom","title":null,"grid":true,"domain":true,"labelFontSize":4.6,"labelPadding":2,"labelOverlap":false,
    "values":[1451606400000,1464739200000,1483228800000,1496275200000,1514764800000,1527811200000,1546300800000,1559347200000,1577836800000,1590969600000,1609459200000,1622505600000,1640995200000],
    "labelExpr":"utcmonth(datum.value) == 0 ? utcFormat(datum.value, '%Y') : 'Jun'"}},
  "y":{"field":"v","type":"quantitative","scale":{"domain":[20,82.6],"nice":false,"zero":false},
   "axis":{"orient":"right","title":null,"values":[20,40,60,80],"labels":false,"grid":false,"domain":true}}}},
{"data":{"values":[{"a":30,"b":70}]},
 "mark":{"type":"rect","color":"#f3e8fc"},
 "encoding":{"y":{"field":"a","type":"quantitative"},"y2":{"field":"b"}}},
{"data":{"values":[{"v":70},{"v":50},{"v":30}]},
 "mark":{"type":"rule","color":"#9598a1","opacity":0.7,"strokeDash":[2,2],"strokeWidth":0.8},
 "encoding":{"y":{"field":"v","type":"quantitative"}}},
{"data":{"name":"rsi"},
 "mark":{"type":"line","color":"#a86ddb","strokeWidth":1},
 "encoding":{"x":{"field":"d","type":"temporal"},"y":{"field":"v","type":"quantitative"}}},
{"data":{"name":"rticks"},
 "mark":{"type":"text","font":"Liberation Sans","fontSize":4.6,"color":"#555555","align":"left","baseline":"middle"},
 "encoding":{"x":{"field":"d","type":"temporal"},"y":{"field":"v","type":"quantitative"},"text":{"field":"t"}}},
{"data":{"values":[
  {"d":"2015-10-01","v":76,"t":"RSI (14, close)","col":"#333333","s":4.8},
  {"d":"2016-02-09","v":76,"t":"52.48","col":"#a35fd8","s":4.8},
  {"d":"2015-09-24","v":-0.4,"t":"TV","col":"#333333","s":5.5},
  {"d":"2015-11-02","v":-0.4,"t":"TradingView","col":"#444444","s":5.5}]},
 "mark":{"type":"text","font":"Liberation Sans","align":"left","baseline":"middle"},
 "encoding":{
  "x":{"field":"d","type":"temporal"},
  "y":{"field":"v","type":"quantitative"},
  "text":{"field":"t"},
  "size":{"field":"s","type":"quantitative","scale":null},
  "color":{"field":"col","type":"nominal","scale":null}}}
]
}
]
}
